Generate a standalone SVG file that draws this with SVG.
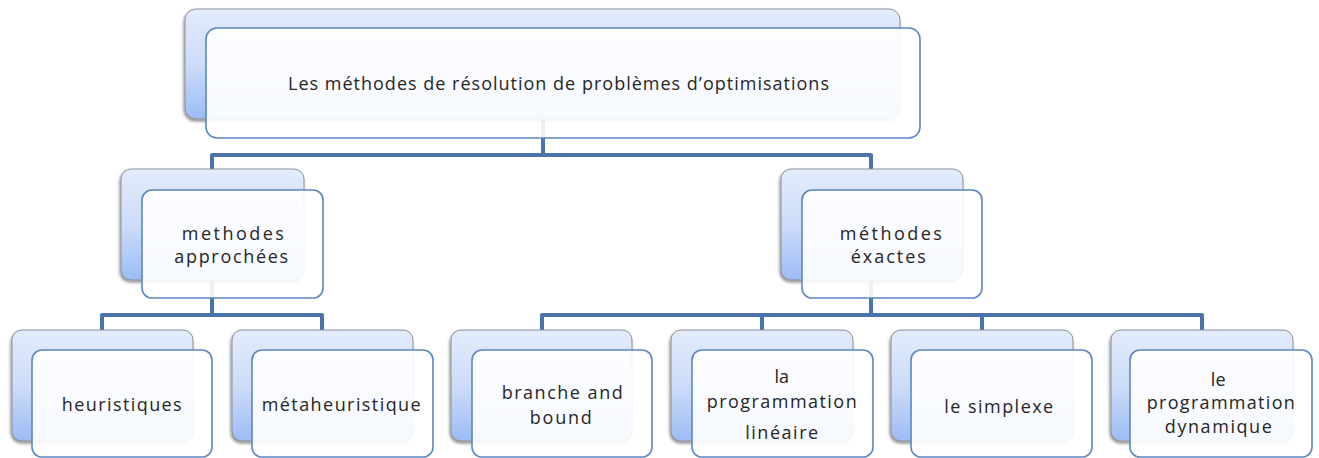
<svg xmlns="http://www.w3.org/2000/svg" width="1319" height="458" viewBox="0 0 1319 458">
  <defs>
    <linearGradient id="backFill" x1="0" y1="0" x2="0" y2="1">
      <stop offset="0" stop-color="#e3ecfc"/>
      <stop offset="0.5" stop-color="#cddcf9"/>
      <stop offset="1" stop-color="#9dbcf4"/>
    </linearGradient>
    <filter id="shade" x="-10%" y="-10%" width="120%" height="130%">
      <feDropShadow dx="-1" dy="2" stdDeviation="1.6" flood-color="#000" flood-opacity="0.45"/>
    </filter>
    <style>
      .back { fill: url(#backFill); stroke: #8d9096; stroke-width: 1; filter: url(#shade); }
      .front { fill: #ffffff; fill-opacity: 0.9; stroke: #5b87c2; stroke-width: 1.6; }
      .link { fill: none; stroke: #4a73aa; stroke-width: 4; stroke-linejoin: round; }
      text { font-family: "Open Sans", "DejaVu Sans", sans-serif; font-size: 18px; font-weight: 500; fill: #262626; text-anchor: middle; }
    </style>
  </defs>
  <rect width="1319" height="458" fill="#ffffff"/>

  <!-- tree connectors -->
  <g id="connectors">
    <path class="link" d="M543 119 V155 M212 169 V155 H871 V169"/>
    <path class="link" d="M212 280 V315 M102 330 V315 H322 V330"/>
    <path class="link" d="M871 280 V315 M542 330 V315 H1202 V330 M762 315 V330 M982 315 V330"/>
  </g>

  <g id="root">
    <rect class="back" x="185" y="9" width="715" height="110" rx="11"/>
    <rect class="front" x="206" y="28" width="714" height="110" rx="11"/>
    <text x="558.5" y="89.5" textLength="541" lengthAdjust="spacing">Les méthodes de résolution de problèmes d’optimisations</text>
  </g>

  <g id="approchees">
    <rect class="back" x="121" y="169" width="183" height="111" rx="10"/>
    <rect class="front" x="142" y="190" width="181" height="108" rx="10"/>
    <text x="232.8" y="240" textLength="102" lengthAdjust="spacing">methodes</text>
    <text x="231.2" y="263" textLength="114" lengthAdjust="spacing">approchées</text>
  </g>

  <g id="exactes">
    <rect class="back" x="781" y="169" width="182" height="111" rx="10"/>
    <rect class="front" x="802" y="190" width="180" height="108" rx="10"/>
    <text x="890.8" y="240" textLength="102" lengthAdjust="spacing">méthodes</text>
    <text x="888.3" y="263" textLength="75" lengthAdjust="spacing">éxactes</text>
  </g>

  <g id="heuristiques">
    <rect class="back" x="12" y="330" width="181" height="111" rx="10"/>
    <rect class="front" x="32" y="350" width="180" height="107" rx="10"/>
    <text x="121.7" y="411" textLength="120" lengthAdjust="spacing">heuristiques</text>
  </g>

  <g id="metaheuristique">
    <rect class="back" x="232" y="330" width="181" height="111" rx="10"/>
    <rect class="front" x="252" y="350" width="181" height="107" rx="10"/>
    <text x="341.2" y="411" textLength="159" lengthAdjust="spacing">métaheuristique</text>
  </g>

  <g id="branch-and-bound">
    <rect class="back" x="451" y="330" width="181" height="111" rx="10"/>
    <rect class="front" x="472" y="350" width="180" height="107" rx="10"/>
    <text x="562.2" y="399" textLength="121" lengthAdjust="spacing">branche and</text>
    <text x="560.8" y="423.5" textLength="62" lengthAdjust="spacing">bound</text>
  </g>

  <g id="programmation-lineaire">
    <rect class="back" x="671" y="330" width="182" height="111" rx="10"/>
    <rect class="front" x="692" y="350" width="181" height="107" rx="10"/>
    <text x="781.7" y="382.5">la</text>
    <text x="781.7" y="407.5" textLength="150" lengthAdjust="spacing">programmation</text>
    <text x="781.7" y="439" textLength="73" lengthAdjust="spacing">linéaire</text>
  </g>

  <g id="simplexe">
    <rect class="back" x="891" y="330" width="182" height="111" rx="10"/>
    <rect class="front" x="911" y="350" width="181" height="107" rx="10"/>
    <text x="998.7" y="412.5" textLength="109" lengthAdjust="spacing">le simplexe</text>
  </g>

  <g id="programmation-dynamique">
    <rect class="back" x="1111" y="330" width="182" height="111" rx="10"/>
    <rect class="front" x="1130" y="350" width="182" height="107" rx="10"/>
    <text x="1218.2" y="386">le</text>
    <text x="1220.8" y="409" textLength="148" lengthAdjust="spacing">programmation</text>
    <text x="1218.3" y="432.5" textLength="107" lengthAdjust="spacing">dynamique</text>
  </g>
</svg>
